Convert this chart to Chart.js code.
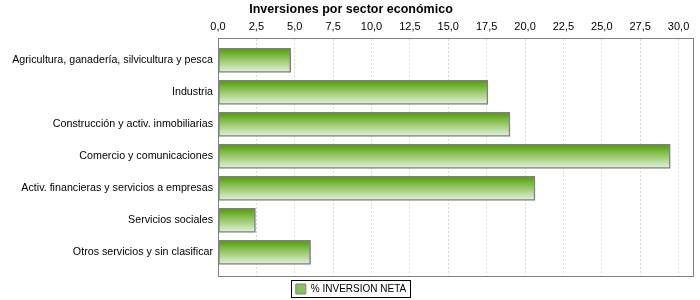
<!DOCTYPE html>
<html>
<head>
<meta charset="utf-8">
<script src="https://cdn.jsdelivr.net/npm/chart.js@4/dist/chart.umd.min.js"></script>
<style>
  body { margin: 0; background: #fff; }
  #wrap { width: 700px; height: 300px; }
</style>
</head>
<body>
<div id="wrap"><canvas id="chart" width="700" height="300"></canvas></div>
<script>
// Data
const sectors = [
    "Agricultura, ganadería, silvicultura y pesca",
    "Industria",
    "Construcción y activ. inmobiliarias",
    "Comercio y comunicaciones",
    "Activ. financieras y servicios a empresas",
    "Servicios sociales",
    "Otros servicios y sin clasificar"
];
const inversionNeta = [4.74, 17.58, 19.02, 29.46, 20.65, 2.44, 6.03];
const xTickValues = [0, 2.5, 5, 7.5, 10, 12.5, 15, 17.5, 20, 22.5, 25, 27.5, 30];
const xMax = 30.94;
const seriesName = "% INVERSION NETA";

const font = "'Liberation Sans', Arial, sans-serif";

// Gradient fill for each bar, top dark green to almost white
function barFill(ctx) {
    const chart = ctx.chart;
    const y = chart.scales.y;
    if (!y || ctx.type !== 'data') return '#86c45a';
    const c = y.getPixelForValue(ctx.dataIndex);
    const g = chart.ctx.createLinearGradient(0, c - 12, 0, c + 12);
    g.addColorStop(0, '#4f9f00');
    g.addColorStop(1, '#e6f3e0');
    return g;
}

// Grey frame round the plot and black box round the legend
const framePlugin = {
    id: 'frame',
    afterDraw(chart) {
        const a = chart.chartArea;
        const c = chart.ctx;
        c.save();
        c.strokeStyle = '#808080';
        c.lineWidth = 1;
        c.strokeRect(Math.round(a.left) + 0.5, Math.round(a.top) + 0.5,
            Math.round(a.right - a.left), Math.round(a.bottom - a.top));
        const hb = chart.legend.legendHitBoxes[0];
        if (hb) {
            c.strokeStyle = '#000';
            c.strokeRect(Math.round(hb.left) - 4.5, Math.round(hb.top) - 3.5,
                Math.round(hb.width) + 9, Math.round(hb.height) + 7);
        }
        c.restore();
    }
};

const data = inversionNeta.map((v, i) => ({ x: v, y: i }));

new Chart(document.getElementById('chart'), {
    type: 'bar',
    data: {
        datasets: [{
            label: seriesName,
            data: data,
            backgroundColor: barFill,
            borderColor: '#808080',
            borderWidth: 1.5,
            borderSkipped: false,
            barThickness: 24
        }]
    },
    options: {
        indexAxis: 'y',
        responsive: false,
        animation: false,
        events: [],
        layout: { padding: { left: 9, right: 7, top: 0, bottom: -4 } },
        plugins: {
            title: {
                display: true,
                text: 'Inversiones por sector económico',
                color: '#000',
                font: { family: font, size: 12.5, weight: 'bold' },
                padding: { top: 2, bottom: 0 }
            },
            legend: {
                position: 'bottom',
                labels: {
                    color: '#000',
                    font: { family: font, size: 10 },
                    boxWidth: 10,
                    boxHeight: 10,
                    padding: 8.5,
                    generateLabels: () => [{
                        text: seriesName,
                        fillStyle: '#86c45a',
                        strokeStyle: '#808080',
                        lineWidth: 1,
                        hidden: false,
                        datasetIndex: 0
                    }]
                }
            },
            tooltip: { enabled: false }
        },
        scales: {
            x: {
                type: 'linear',
                position: 'top',
                min: 0,
                max: xMax,
                afterFit: (s) => { s.height = 21; },
                afterBuildTicks: (s) => { s.ticks = xTickValues.map(v => ({ value: v })); },
                ticks: {
                    color: '#000',
                    padding: 4,
                    maxRotation: 0,
                    autoSkip: false,
                    font: { family: font, size: 11 },
                    callback: (v) => v.toFixed(1).replace('.', ',')
                },
                grid: {
                    color: '#d9d9d9',
                    drawTicks: false
                },
                border: { display: true, color: '#808080', dash: [2, 2] }
            },
            y: {
                type: 'linear',
                reverse: true,
                offset: false,
                min: -0.7,
                max: 6.72,
                afterFit: (s) => { s.width = 209; },
                afterBuildTicks: (s) => { s.ticks = sectors.map((n, i) => ({ value: i })); },
                ticks: {
                    autoSkip: false,
                    color: '#000',
                    padding: 5,
                    font: { family: font, size: 10.7 },
                    callback: (v) => sectors[v]
                },
                grid: { display: false, drawTicks: false, tickLength: 0 },
                border: { display: false }
            }
        }
    },
    plugins: [framePlugin]
});
</script>
</body>
</html>
